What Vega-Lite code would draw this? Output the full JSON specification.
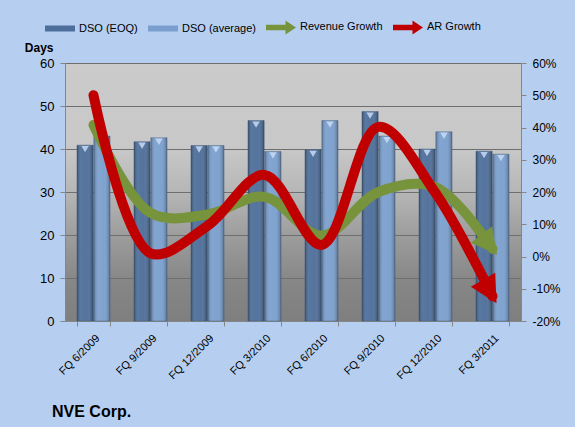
{
  "$schema": "https://vega.github.io/schema/vega-lite/v6.json",
  "autosize": "none",
  "width": 456,
  "height": 258,
  "padding": {"left": 65, "top": 63, "right": 54, "bottom": 106},
  "background": "#b6cff1",
  "title": {
    "text": "NVE Corp.",
    "orient": "bottom",
    "anchor": "start",
    "frame": "group",
    "dx": -13,
    "offset": 23,
    "font": "Liberation Sans",
    "fontSize": 16,
    "fontWeight": "bold",
    "color": "#000000"
  },
  "datasets": {
    "dso": [
      {"quarter": "FQ 6/2009", "series": "DSO (EOQ)", "days": 40.9},
      {"quarter": "FQ 6/2009", "series": "DSO (average)", "days": 43.0},
      {"quarter": "FQ 9/2009", "series": "DSO (EOQ)", "days": 41.7},
      {"quarter": "FQ 9/2009", "series": "DSO (average)", "days": 42.6},
      {"quarter": "FQ 12/2009", "series": "DSO (EOQ)", "days": 40.8},
      {"quarter": "FQ 12/2009", "series": "DSO (average)", "days": 40.8},
      {"quarter": "FQ 3/2010", "series": "DSO (EOQ)", "days": 46.6},
      {"quarter": "FQ 3/2010", "series": "DSO (average)", "days": 39.4},
      {"quarter": "FQ 6/2010", "series": "DSO (EOQ)", "days": 39.8},
      {"quarter": "FQ 6/2010", "series": "DSO (average)", "days": 46.6},
      {"quarter": "FQ 9/2010", "series": "DSO (EOQ)", "days": 48.7},
      {"quarter": "FQ 9/2010", "series": "DSO (average)", "days": 43.0},
      {"quarter": "FQ 12/2010", "series": "DSO (EOQ)", "days": 40.0},
      {"quarter": "FQ 12/2010", "series": "DSO (average)", "days": 44.0},
      {"quarter": "FQ 3/2011", "series": "DSO (EOQ)", "days": 39.5},
      {"quarter": "FQ 3/2011", "series": "DSO (average)", "days": 38.8}
    ],
    "growth": [
      {"quarter": "FQ 6/2009", "series": "Revenue Growth", "pct": 40.8},
      {"quarter": "FQ 9/2009", "series": "Revenue Growth", "pct": 13.5},
      {"quarter": "FQ 12/2009", "series": "Revenue Growth", "pct": 13.0},
      {"quarter": "FQ 3/2010", "series": "Revenue Growth", "pct": 18.5},
      {"quarter": "FQ 6/2010", "series": "Revenue Growth", "pct": 6.5},
      {"quarter": "FQ 9/2010", "series": "Revenue Growth", "pct": 20.0},
      {"quarter": "FQ 12/2010", "series": "Revenue Growth", "pct": 21.5},
      {"quarter": "FQ 3/2011", "series": "Revenue Growth", "pct": 2.4},
      {"quarter": "FQ 6/2009", "series": "AR Growth", "pct": 50.0},
      {"quarter": "FQ 9/2009", "series": "AR Growth", "pct": 1.0},
      {"quarter": "FQ 12/2009", "series": "AR Growth", "pct": 9.5},
      {"quarter": "FQ 3/2010", "series": "AR Growth", "pct": 25.3},
      {"quarter": "FQ 6/2010", "series": "AR Growth", "pct": 3.6},
      {"quarter": "FQ 9/2010", "series": "AR Growth", "pct": 40.2},
      {"quarter": "FQ 12/2010", "series": "AR Growth", "pct": 19.7},
      {"quarter": "FQ 3/2011", "series": "AR Growth", "pct": -12.3}
    ]
  },
  "encoding": {
    "x": {
      "field": "quarter",
      "type": "nominal",
      "sort": ["FQ 6/2009", "FQ 9/2009", "FQ 12/2009", "FQ 3/2010", "FQ 6/2010", "FQ 9/2010", "FQ 12/2010", "FQ 3/2011"],
      "scale": {"paddingInner": 0.42, "paddingOuter": 0.21},
      "axis": {
        "title": null,
        "labelAngle": -45,
        "labelFont": "Liberation Sans",
        "labelFontSize": 11,
        "labelColor": "#000000",
        "labelPadding": 6,
        "tickBand": "extent",
        "tickSize": 5,
        "tickColor": "#868686",
        "domainColor": "#868686",
        "grid": false
      }
    }
  },
  "layer": [
    {
      "data": {"name": "dso"},
      "encoding": {
        "xOffset": {
          "field": "series",
          "type": "nominal",
          "sort": ["DSO (EOQ)", "DSO (average)"],
          "scale": {"paddingInner": 0.04}
        },
        "y": {
          "field": "days",
          "type": "quantitative",
          "scale": {"domain": [0, 60], "nice": false},
          "axis": {
            "values": [0, 10, 20, 30, 40, 50, 60],
            "title": "Days",
            "titleAngle": 0,
            "titleAlign": "right",
            "titleBaseline": "middle",
            "titleX": -12,
            "titleY": -16,
            "titleFont": "Liberation Sans",
            "titleFontSize": 12,
            "titleFontWeight": "bold",
            "titleColor": "#000000",
            "labelFont": "Liberation Sans",
            "labelFontSize": 13,
            "labelColor": "#000000",
            "labelPadding": 6,
            "tickSize": 5,
            "tickColor": "#868686",
            "domainColor": "#868686",
            "grid": true,
            "gridColor": "#6f6f6f",
            "gridWidth": 1
          }
        }
      },
      "layer": [
        {
          "mark": {"type": "bar", "stroke": "#3d5678", "strokeWidth": 0.6, "strokeOpacity": 0.7},
          "encoding": {
            "color": {
              "field": "series",
              "type": "nominal",
              "scale": {
                "domain": ["DSO (EOQ)", "DSO (average)", "Revenue Growth", "AR Growth"],
                "range": ["#4d6e9a", "#7a9fce", "#77933c", "#c00000"]
              },
              "legend": {
                "title": null,
                "orient": "none",
                "legendX": -20,
                "legendY": -51,
                "direction": "horizontal",
                "padding": 0,
                "symbolSize": 900,
                "symbolStrokeWidth": 0,
                "symbolType": {"expr": "indexof(['Revenue Growth', 'AR Growth'], datum.value) >= 0 ? 'M-1,-0.18H0.3V-0.47L1,0L0.3,0.47V0.18H-1Z' : 'M-1,-0.2H1V0.2H-1Z'"},
                "labelFont": "Liberation Sans",
                "labelFontSize": 11,
                "labelColor": "#000000",
                "labelOffset": 4,
                "columnPadding": 10
              }
            }
          }
        },
        {
          "mark": {
            "type": "bar",
            "fill": {
              "gradient": "linear",
              "x1": 0, "y1": 0, "x2": 1, "y2": 0,
              "stops": [
                {"offset": 0, "color": "rgba(0,0,0,0.28)"},
                {"offset": 0.3, "color": "rgba(255,255,255,0.06)"},
                {"offset": 0.6, "color": "rgba(255,255,255,0.04)"},
                {"offset": 1, "color": "rgba(0,0,0,0.3)"}
              ]
            }
          }
        },
        {
          "mark": {"type": "point", "shape": "triangle-down", "filled": true, "size": 55, "color": "#c9dcf4", "opacity": 0.85, "yOffset": 4}
        }
      ]
    },
    {
      "data": {"name": "growth"},
      "encoding": {
        "y": {
          "field": "pct",
          "type": "quantitative",
          "scale": {"domain": [-20, 60], "nice": false},
          "axis": {
            "orient": "right",
            "values": [-20, -10, 0, 10, 20, 30, 40, 50, 60],
            "labelExpr": "datum.value + '%'",
            "title": null,
            "labelFont": "Liberation Sans",
            "labelFontSize": 12,
            "labelColor": "#000000",
            "labelPadding": 6,
            "tickSize": 5,
            "tickColor": "#868686",
            "domainColor": "#868686",
            "grid": false
          }
        }
      },
      "layer": [
        {
          "mark": {"type": "line", "interpolate": "catmull-rom", "strokeWidth": 10, "strokeCap": "round", "strokeJoin": "round"},
          "encoding": {
            "color": {"field": "series", "type": "nominal"},
            "order": {"field": "series", "sort": "descending"}
          }
        },
        {
          "transform": [{"filter": "datum.series === 'Revenue Growth' && datum.quarter === 'FQ 3/2011'"}],
          "mark": {"type": "point", "shape": "M0.62,0L-1.46,-1.08L-1.46,1.08Z", "filled": true, "size": 600, "angle": 52, "color": "#77933c", "opacity": 1}
        },
        {
          "transform": [{"filter": "datum.series === 'AR Growth' && datum.quarter === 'FQ 3/2011'"}],
          "mark": {"type": "point", "shape": "M0.62,0L-1.46,-1.08L-1.46,1.08Z", "filled": true, "size": 676, "angle": 60, "color": "#c00000", "opacity": 1}
        }
      ]
    }
  ],
  "resolve": {"scale": {"y": "independent"}},
  "config": {
    "view": {
      "stroke": null,
      "fill": {
        "gradient": "linear",
        "x1": 0, "y1": 0, "x2": 0, "y2": 1,
        "stops": [
          {"offset": 0, "color": "#cbcbcb"},
          {"offset": 0.33, "color": "#c8c8c8"},
          {"offset": 0.5, "color": "#b6b6b6"},
          {"offset": 0.67, "color": "#9d9d9d"},
          {"offset": 0.85, "color": "#868686"},
          {"offset": 1, "color": "#7f7f7f"}
        ]
      }
    }
  }
}
